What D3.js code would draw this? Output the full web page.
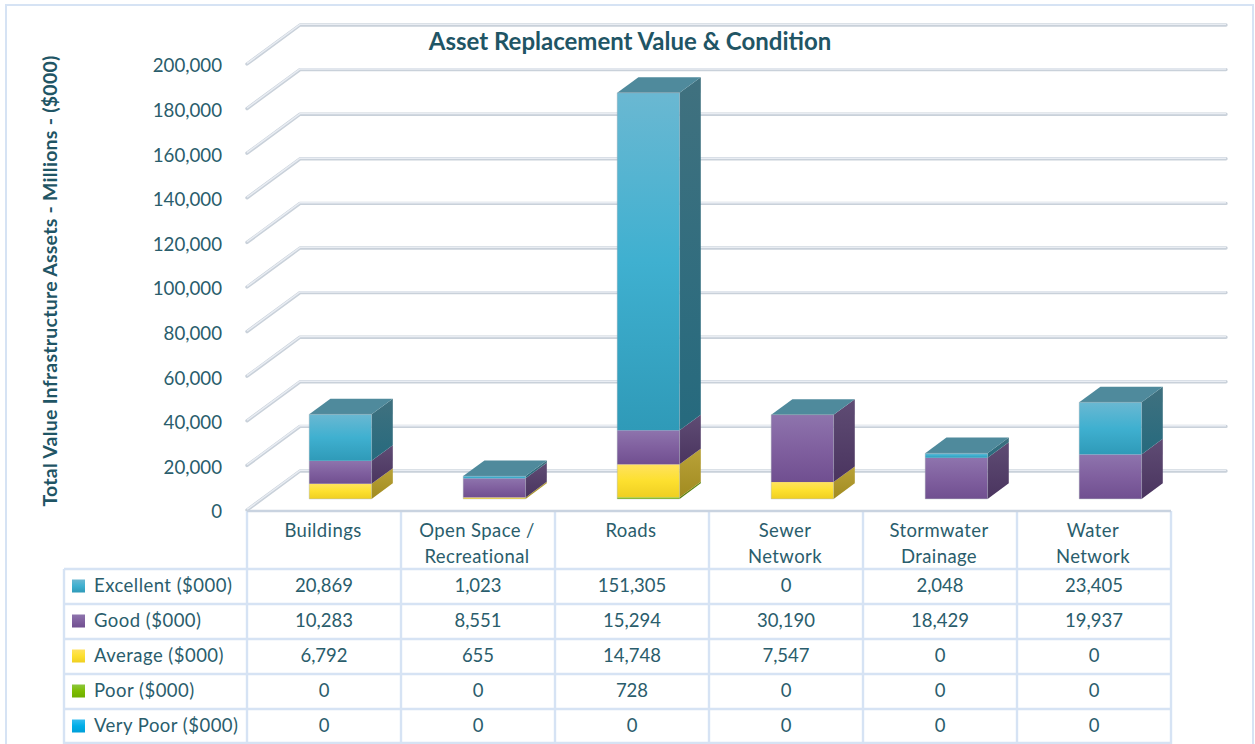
<!DOCTYPE html>
<html><head><meta charset="utf-8">
<script src="https://cdnjs.cloudflare.com/ajax/libs/d3/7.8.5/d3.min.js"></script>
<style>html,body{margin:0;padding:0;background:#fff;overflow:hidden}text{font-family:Lato,"Open Sans",sans-serif}</style>
</head><body><svg id="c" width="1255" height="744"></svg>
<script>
const categories=[["Buildings"],["Open Space /","Recreational"],["Roads"],["Sewer","Network"],["Stormwater","Drainage"],["Water","Network"]];
const categoryKeys=["Buildings","Open Space","Roads","Sewer","Stormwater","Water"];
const seriesNames=["Excellent ($000)","Good ($000)","Average ($000)","Poor ($000)","Very Poor ($000)"];
const excellent=[20869,1023,151305,0,2048,23405];
const good=[10283,8551,15294,30190,18429,19937];
const average=[6792,655,14748,7547,0,0];
const poor=[0,0,728,0,0,0];
const veryPoor=[0,0,0,0,0,0];
const yTicks=[0,20000,40000,60000,80000,100000,120000,140000,160000,180000,200000];
const seriesValues=[excellent,good,average,poor,veryPoor];
const palette=[
 {f:["#6ab8d2","#3fb0d0","#2f9ab8"],s:["#40717f","#266a7e"],t:"#4f8a9c"},
 {f:["#8e74ad","#80609f","#704f90"],s:["#5f4c74","#4a345f"],t:"#5f4c74"},
 {f:["#ffe25f","#fde02f","#efcf22"],s:["#b9a238","#a18b20"],t:"#b9a238"},
 {f:["#8cc63f","#7dbd00","#6fae00"],s:["#5f8a10","#557c0c"],t:"#5f8a10"},
 {f:["#35bdf0","#00aee8","#009fd8"],s:["#1a7fa8","#106f96"],t:"#1a7fa8"}];
const ink="#2a5d6c", gridLine="#c9d1da", tableLine="#d6e3f4";

const svg=d3.select("#c"), defs=svg.append("defs");
palette.forEach((p,i)=>{
  const a=defs.append("linearGradient").attr("id","f"+i).attr("x1",0).attr("x2",0).attr("y1",0).attr("y2",1);
  p.f.forEach((c,j)=>a.append("stop").attr("offset",j/2).attr("stop-color",c));
  const b=defs.append("linearGradient").attr("id","s"+i).attr("x1",0).attr("x2",0).attr("y1",0).attr("y2",1);
  p.s.forEach((c,j)=>b.append("stop").attr("offset",j).attr("stop-color",c));
});
// frame
svg.append("rect").attr("x",6).attr("y",5).attr("width",1247).attr("height",745).attr("fill","#fff").attr("stroke",tableLine).attr("stroke-width",2);

const x=d3.scaleBand().domain(categoryKeys).range([247,1171]).paddingInner(0).paddingOuter(0);
const y=d3.scaleLinear().domain([0,200000]).range([510,64]);
const depthX=53, depthY=39, barFront=0.285, barBack=0.685, barWidth=0.405, barShiftX=16.4;

// gridlines
const grid=svg.append("g");
const gridPath=v=>`M${x.range()[0]},${y(v)}L${x.range()[0]+depthX},${y(v)-depthY}L1226,${y(v)-depthY}`;
grid.selectAll(".g1").data(yTicks).join("path").attr("d",v=>gridPath(v)).attr("fill","none").attr("stroke",gridLine).attr("stroke-width",3.4).attr("stroke-linecap","round").attr("stroke-linejoin","round");
grid.selectAll(".g2").data(yTicks).join("path").attr("d",v=>gridPath(v)).attr("fill","none").attr("stroke","#e9edf3").attr("stroke-width",1.4).attr("transform","translate(0,-0.6)");

// y axis
const axis=svg.append("g").attr("transform","translate(222,0)").call(d3.axisLeft(y).tickValues(yTicks).tickSize(0).tickPadding(0).tickFormat(d3.format(",")));
axis.select(".domain").remove();
axis.selectAll("text").attr("fill",ink).style("font-size","18.7px").style("font-family","Lato").attr("transform","translate(0,2)");

// stacked 3D bars
const rows=categoryKeys.map((k,i)=>{const r={key:k};seriesNames.forEach((s,j)=>r[s]=seriesValues[j][i]);return r;});
const stackOrder=seriesNames.slice().reverse();
const stacked=d3.stack().keys(stackOrder)(rows);
const bars=svg.append("g");
const geom=k=>{const step=x.step(),w=step*barWidth,cx=x(k)+step/2+barShiftX;
 const dx=depthX*(barBack-barFront),dy=depthY*(barBack-barFront),lift=depthY*barFront;
 return {l:cx-w/2,r:cx+w/2,dx,dy,lift};};
categoryKeys.forEach((k,ci)=>{
  const g=geom(k);
  const parts=stacked.map(s=>({idx:seriesNames.indexOf(s.key),y0:s[ci][0],y1:s[ci][1]})).filter(p=>p.y1>p.y0);
  parts.forEach(p=>{
    const yb=y(p.y0)-g.lift, yt=y(p.y1)-g.lift;
    bars.append("path").attr("d",`M${g.r},${yb}L${g.r+g.dx},${yb-g.dy}L${g.r+g.dx},${yt-g.dy}L${g.r},${yt}Z`).attr("fill",`url(#s${p.idx})`);
    bars.append("rect").attr("x",g.l).attr("y",yt).attr("width",g.r-g.l).attr("height",yb-yt).attr("fill",`url(#f${p.idx})`);
  });
  const yt=y(parts[parts.length-1].y1)-g.lift;
  // the top cap always belongs to the top series (Excellent), even at zero height
  bars.append("path").attr("d",`M${g.l},${yt}L${g.l+g.dx},${yt-g.dy}L${g.r+g.dx},${yt-g.dy}L${g.r},${yt}Z`).attr("fill",palette[0].t);
  const yb0=y(0)-g.lift;
  bars.append("path").attr("d",`M${g.l},${yb0}L${g.l},${yt}L${g.r},${yt}L${g.r},${yb0}Z`).attr("fill","none").attr("stroke","#9aa5ad").attr("stroke-opacity",.45).attr("stroke-width",.8);
});

// data table
const rowY=d3.scaleBand().domain(seriesNames).range([569,744]);
const tbl=svg.append("g");
const lines=tbl.append("g").attr("stroke",tableLine).attr("stroke-width",2.4).attr("fill","none");
const xEdges=categoryKeys.map(k=>x(k)).concat(x.range()[1]);
xEdges.forEach(v=>lines.append("line").attr("x1",v).attr("x2",v).attr("y1",511).attr("y2",744));
lines.append("line").attr("x1",x.range()[0]).attr("x2",x.range()[1]).attr("y1",511).attr("y2",511).attr("stroke","#c9d3e0");
lines.append("line").attr("x1",64).attr("x2",64).attr("y1",569).attr("y2",744);
seriesNames.forEach(s=>lines.append("line").attr("x1",64).attr("x2",x.range()[1]).attr("y1",rowY(s)).attr("y2",rowY(s)));
lines.append("line").attr("x1",64).attr("x2",x.range()[1]).attr("y1",743).attr("y2",743);

categories.forEach((lab,i)=>{
  const cx=x(categoryKeys[i])+x.step()/2-1;
  lab.forEach((t,j)=>tbl.append("text").attr("x",cx).attr("y",537+j*26).attr("text-anchor","middle").attr("fill",ink).style("font-size","18.5px").style("letter-spacing","0.4px").text(t));
});
seriesNames.forEach((s,j)=>{
  const cy=rowY(s)+rowY.bandwidth()/2;
  tbl.append("rect").attr("x",72).attr("y",cy-7).attr("width",13).attr("height",13).attr("fill",`url(#f${j})`);
  tbl.append("text").attr("x",94).attr("y",cy+5).attr("fill",ink).style("font-size","18.5px").style("letter-spacing","0.47px").text(s);
  seriesValues[j].forEach((v,i)=>tbl.append("text").attr("x",x(categoryKeys[i])+x.step()/2).attr("y",cy+5).attr("text-anchor","middle").attr("fill",ink).style("font-size","18.5px").text(d3.format(",")(v)));
});

// titles
svg.append("text").attr("x",630).attr("y",50).attr("text-anchor","middle").attr("fill","#1f5565").style("font-size","24px").style("font-weight",700).text("Asset Replacement Value & Condition");
svg.append("text").attr("transform","translate(57,281) rotate(-90)").attr("text-anchor","middle").attr("fill","#1f5565").style("font-size","19.5px").style("letter-spacing","0.25px").style("font-weight",700).text("Total Value Infrastructure Assets - Millions - ($000)");
</script></body></html>
